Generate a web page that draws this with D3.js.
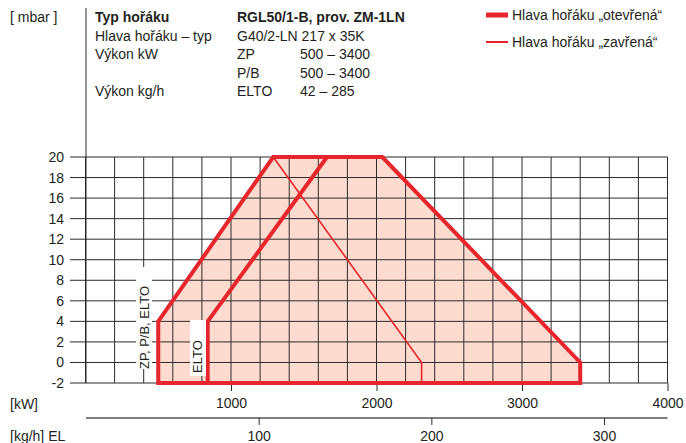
<!DOCTYPE html>
<html><head><meta charset="utf-8">
<script src="https://cdnjs.cloudflare.com/ajax/libs/d3/7.8.5/d3.min.js"></script>
<style>body{margin:0;background:#fff}svg{display:block}text{font-family:"Liberation Sans",Arial,sans-serif;fill:#231f20}</style>
</head><body><svg id="c" width="686" height="443"></svg>
<script>
// ---- data ----
const kwTicks = [1000, 2000, 3000, 4000];
const kghTicks = [100, 200, 300];
const mbarTicks = [-2, 0, 2, 4, 6, 8, 10, 12, 14, 16, 18, 20];
const gridKW = d3.range(0, 4001, 200);
// "otevřená" (open head) envelope
const openKW = [500, 500, 1290, 2040, 3400, 3400];
const openMbar = [-2, 4, 20, 20, 0, -2];
// ELTO left branch
const eltoKW = [840, 840, 1660];
const eltoMbar = [-2, 4, 20];
// "zavřená" (closed head) branch
const closedKW = [1290, 2310, 2310];
const closedMbar = [20, 0, -2];
const headerRows = [
  ["Typ hořáku", "RGL50/1-B, prov. ZM-1LN", ""],
  ["Hlava hořáku – typ", "G40/2-LN 217 x 35K", ""],
  ["Výkon kW", "ZP", "500 – 3400"],
  ["", "P/B", "500 – 3400"],
  ["Výkon kg/h", "ELTO", "42 – 285"]
];
const legendLabels = ["Hlava hořáku „otevřená“", "Hlava hořáku „zavřená“"];

const RED = "#e6252c", FILL = "#fddccf", GRID = "#2b2b2b";
const svg = d3.select("#c");
const x = d3.scaleLinear().domain([0, 4000]).range([85.5, 667.5]);
const y = d3.scaleLinear().domain([-2, 20]).range([383, 157]);
const xk = d3.scaleLinear().domain([0, 300]).range([86, 604]);

const pts = (a, b) => a.map((v, i) => [x(v), y(b[i])]);
const line = d3.line();

// fill
svg.append("path").attr("d", line(pts(openKW, openMbar)) + "Z").attr("fill", FILL);

// grid
const g = svg.append("g").attr("stroke", GRID).attr("stroke-width", 1);
g.selectAll("line.h").data(mbarTicks).join("line")
  .attr("x1", 70).attr("x2", x(4000)).attr("y1", d => y(d)).attr("y2", d => y(d));
g.selectAll("line.v").data(gridKW).join("line")
  .attr("x1", d => x(d)).attr("x2", d => x(d)).attr("y1", y(20)).attr("y2", y(-2));
// y axis line up to header
g.append("line").attr("x1", 86).attr("x2", 86).attr("y1", 8).attr("y2", y(-2));

// y tick labels
svg.selectAll("text.yl").data(mbarTicks).join("text")
  .attr("x", 64).attr("y", d => y(d) + 5).attr("text-anchor", "end")
  .attr("font-size", 14).text(d => d);

// kW axis
const ax1 = svg.append("g").attr("transform", `translate(0,${y(-2)})`)
  .call(d3.axisBottom(x).tickValues(kwTicks).tickSize(8).tickSizeOuter(0).tickFormat(d3.format("d")));
ax1.select(".domain").remove();
ax1.selectAll("line").attr("stroke", GRID);
ax1.selectAll("text").attr("font-size", 14).attr("dy", "0").attr("y", 25)
  .style("font-family", '"Liberation Sans",Arial,sans-serif').attr("fill", "#231f20");

// kg/h axis
const ax2 = svg.append("g").attr("transform", "translate(0,418)")
  .call(d3.axisBottom(xk).tickValues(kghTicks).tickSize(7).tickSizeOuter(0).tickFormat(d3.format("d")));
ax2.select(".domain").attr("d", `M${xk(0)},0H${x(4000)}`).attr("stroke", "#555").attr("stroke-width", 1.3);
ax2.selectAll("line").attr("stroke", GRID);
ax2.selectAll("text").attr("font-size", 14).attr("dy", "0").attr("y", 23)
  .style("font-family", '"Liberation Sans",Arial,sans-serif').attr("fill", "#231f20");

svg.append("text").attr("x", 10).attr("y", 409).attr("font-size", 14).text("[kW]");
svg.append("text").attr("x", 10).attr("y", 441).attr("font-size", 14).text("[kg/h] EL");
svg.append("text").attr("x", 10).attr("y", 22).attr("font-size", 14).text("[ mbar ]");

// red curves
svg.append("path").attr("d", line(pts(openKW, openMbar)) + "Z")
  .attr("fill", "none").attr("stroke", RED).attr("stroke-width", 4).attr("stroke-linejoin", "miter");
svg.append("path").attr("d", line(pts(eltoKW, eltoMbar)))
  .attr("fill", "none").attr("stroke", RED).attr("stroke-width", 4);
svg.append("path").attr("d", line(pts(closedKW, closedMbar)))
  .attr("fill", "none").attr("stroke", RED).attr("stroke-width", 1.6);

// rotated labels with white boxes
svg.append("rect").attr("x", 136).attr("y", 267).attr("width", 16).attr("height", 102).attr("fill", "#fff");
svg.append("text").attr("transform", "translate(149,369) rotate(-90)").attr("font-size", 13).text("ZP, P/B, ELTO");
svg.append("rect").attr("x", 190).attr("y", 320).attr("width", 16).attr("height", 56).attr("fill", "#fff");
svg.append("text").attr("transform", "translate(202,373) rotate(-90)").attr("font-size", 13).text("ELTO");

// header table
const cols = [95, 237, 300];
headerRows.forEach((r, i) => {
  r.forEach((t, j) => {
    if (!t) return;
    svg.append("text").attr("x", cols[j]).attr("y", 22 + i * 18.5)
      .attr("font-size", 14).attr("font-weight", i === 0 ? "bold" : "normal").text(t);
  });
});

// legend
const lg = svg.append("g");
[5, 2].forEach((w, i) => {
  lg.append("line").attr("x1", 486).attr("x2", 508).attr("y1", 15 + i * 27).attr("y2", 15 + i * 27)
    .attr("stroke", RED).attr("stroke-width", w);
  lg.append("text").attr("x", 512).attr("y", 20 + i * 27).attr("font-size", 14).text(legendLabels[i]);
});
</script></body></html>
